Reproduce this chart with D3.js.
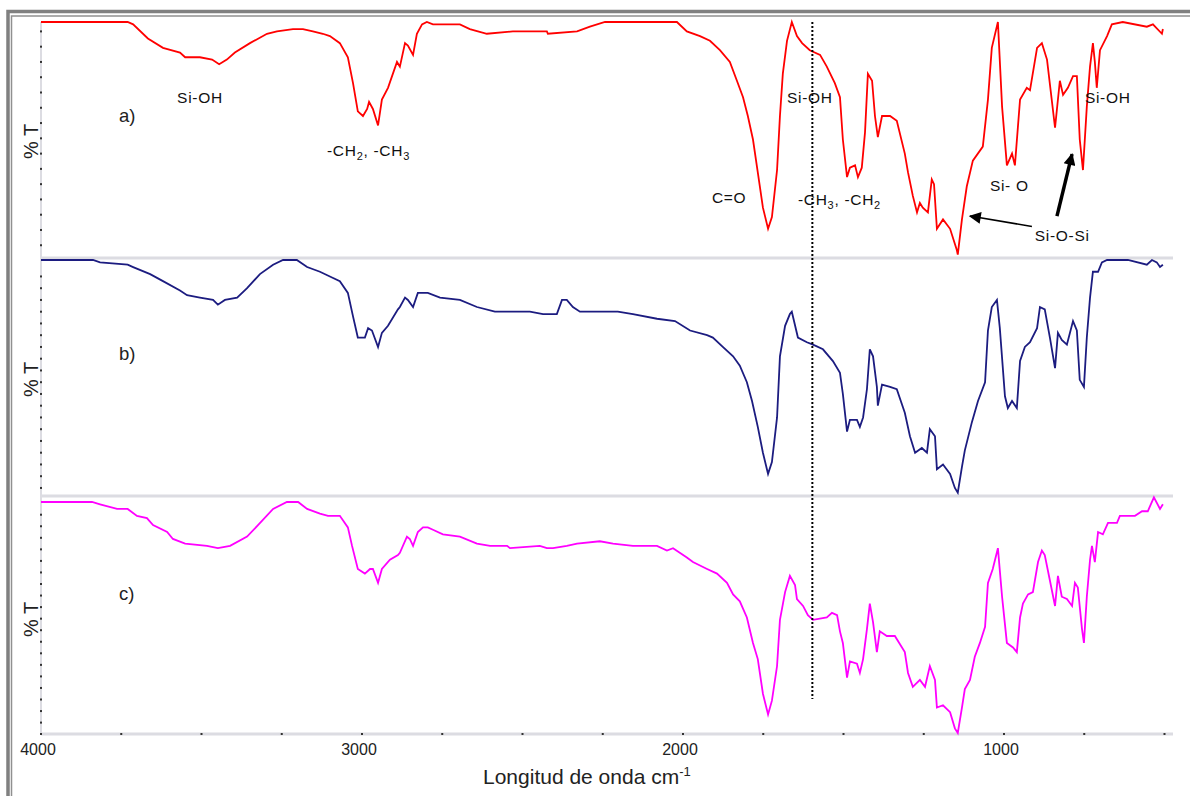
<!DOCTYPE html>
<html>
<head>
<meta charset="utf-8">
<script src="https://cdn.jsdelivr.net/npm/d3@7"></script>
<style>
  html, body { margin: 0; padding: 0; background: #fff; }
  svg { display: block; font-family: "Liberation Sans", Arial, sans-serif; }
</style>
</head>
<body>
<div id="chart"></div>
<script>
// FTIR spectra, [wavenumber cm-1, %T]
const specA = [[4000,100],[3730,100],[3713,99],[3667,93],[3620,89],[3567,87],[3551,85],[3505,85],[3467,84],[3445,82],[3421,84],[3396,87],[3349,91],[3296,95],[3265,96],[3215,97],[3184,97],[3153,96],[3122,95],[3100,94],[3069,91],[3044,85],[3028,74],[3013,62],[2997,60],[2984,63],[2978,66],[2966,63],[2950,56],[2938,67],[2919,72],[2891,83],[2882,81],[2866,91],[2857,90],[2841,86],[2829,95],[2813,99],[2798,100],[2779,99],[2726,99],[2695,99],[2664,97],[2611,95],[2530,96],[2424,96],[2421,95],[2330,96],[2290,98],[2243,100],[2019,100],[1988,96],[1947,94],[1916,92],[1885,88],[1854,83],[1832,75],[1813,68],[1798,60],[1782,50],[1767,36],[1751,21],[1735,12],[1723,17],[1707,37],[1698,60],[1689,78],[1676,92],[1661,100],[1645,94],[1629,91],[1605,88],[1573,86],[1552,81],[1527,74],[1511,68],[1502,50],[1489,34],[1480,38],[1464,39],[1455,34],[1443,38],[1433,53],[1424,78],[1411,75],[1402,60],[1393,51],[1380,60],[1355,60],[1334,58],[1309,44],[1299,36],[1284,26],[1271,19],[1262,23],[1253,21],[1237,19],[1225,33],[1218,31],[1209,12],[1190,16],[1168,12],[1147,3],[1144,1],[1131,16],[1116,30],[1097,41],[1066,47],[1050,67],[1038,89],[1019,100],[1006,64],[991,39],[975,44],[966,39],[950,67],[929,72],[919,71],[897,89],[882,91],[866,84],[841,55],[826,75],[816,69],[801,72],[785,77],[773,77],[764,50],[754,37],[742,64],[732,81],[723,91],[717,83],[711,72],[701,88],[679,94],[664,99],[630,100],[555,98],[536,99],[508,95],[505,97]];

const specB = [[4000,100],[3838,100],[3816,99],[3730,98],[3713,97],[3660,94],[3620,91],[3567,87],[3545,85],[3505,84],[3464,83],[3449,81],[3427,83],[3389,84],[3358,88],[3318,94],[3277,98],[3246,100],[3203,100],[3171,97],[3131,95],[3100,93],[3069,91],[3044,86],[3028,76],[3013,67],[2991,67],[2981,71],[2969,70],[2950,63],[2938,69],[2919,72],[2888,79],[2882,80],[2866,84],[2857,83],[2841,80],[2826,86],[2795,86],[2757,84],[2695,83],[2642,80],[2586,78],[2477,78],[2436,77],[2393,77],[2377,83],[2362,83],[2343,80],[2321,78],[2290,78],[2203,78],[2156,77],[2081,75],[2025,74],[1978,70],[1925,68],[1907,67],[1876,63],[1844,59],[1823,55],[1801,48],[1785,40],[1767,29],[1751,18],[1735,9],[1723,14],[1707,33],[1698,59],[1682,72],[1667,77],[1661,78],[1642,67],[1614,65],[1595,64],[1564,62],[1533,57],[1511,52],[1502,43],[1489,27],[1480,32],[1458,32],[1449,29],[1439,33],[1427,45],[1418,62],[1408,59],[1396,46],[1393,38],[1380,47],[1355,46],[1334,45],[1309,35],[1293,25],[1277,18],[1256,20],[1240,18],[1231,28],[1215,25],[1209,11],[1190,13],[1168,9],[1153,3],[1144,1],[1131,12],[1122,19],[1100,31],[1081,40],[1059,48],[1050,70],[1038,80],[1022,83],[1013,71],[997,42],[988,37],[975,40],[960,37],[950,57],[935,63],[919,65],[897,71],[888,80],[873,79],[857,67],[841,54],[832,69],[820,66],[804,64],[785,74],[773,70],[764,49],[751,46],[742,67],[732,84],[723,95],[707,95],[695,99],[679,100],[614,100],[555,98],[539,100],[524,99],[514,97],[505,98]];

const specC = [[4000,100],[3841,100],[3816,99],[3763,97],[3730,97],[3701,94],[3670,93],[3651,90],[3607,87],[3589,84],[3551,82],[3483,81],[3449,80],[3411,81],[3358,85],[3324,90],[3277,97],[3234,100],[3199,100],[3171,97],[3131,95],[3106,94],[3069,94],[3044,89],[3031,81],[3013,71],[2991,69],[2975,71],[2966,71],[2950,65],[2938,71],[2913,75],[2888,77],[2882,78],[2860,85],[2851,84],[2841,81],[2826,87],[2810,89],[2795,89],[2779,88],[2748,86],[2695,85],[2642,82],[2601,81],[2548,81],[2539,80],[2446,81],[2424,80],[2405,80],[2362,81],[2330,82],[2259,83],[2218,82],[2156,81],[2081,81],[2050,79],[2031,80],[1988,76],[1969,74],[1925,71],[1894,69],[1863,65],[1844,60],[1823,57],[1801,50],[1782,39],[1767,32],[1751,17],[1735,8],[1723,14],[1707,29],[1698,49],[1682,61],[1667,68],[1651,64],[1645,58],[1626,55],[1611,51],[1595,49],[1552,50],[1536,52],[1520,51],[1511,44],[1502,39],[1489,24],[1480,31],[1458,30],[1449,26],[1439,32],[1427,45],[1418,56],[1408,48],[1396,35],[1387,44],[1365,42],[1340,42],[1309,35],[1299,26],[1284,20],[1262,23],[1246,20],[1231,29],[1215,23],[1209,11],[1190,12],[1168,9],[1153,2],[1144,0],[1131,11],[1122,19],[1106,23],[1091,33],[1075,39],[1059,46],[1050,65],[1035,71],[1019,80],[1006,59],[991,39],[972,37],[960,35],[950,50],[941,56],[925,60],[910,61],[894,74],[882,79],[873,77],[857,66],[841,55],[832,68],[820,59],[804,58],[788,55],[779,65],[770,63],[757,45],[751,39],[742,59],[732,75],[726,81],[717,74],[707,87],[692,86],[676,91],[648,91],[639,94],[592,94],[570,96],[552,96],[533,102],[514,97],[505,99]];

const panelLabels = ["a)", "b)", "c)"];
const seriesColors = ["#ff0000", "#1c1c80", "#ff00ff"];
const majorTicks = [4000, 3000, 2000, 1000];
const minorTicks = d3.range(4000, 499, -250);

// peak labels for spectrum a: [text, wavenumber, %T]  ("|" toggles subscript)
const peakLabels = [
  ["Si-OH", 3576, 65.5],
  ["-CH|2|, -CH|3", 3109, 43],
  ["C=O", 1910, 23],
  ["Si-OH", 1676, 65.5],
  ["-CH|3|, -CH|2", 1642, 22],
  ["Si- O", 1044, 28],
  ["Si-O-Si", 904, 7],
  ["Si-OH", 748, 65.5]
];

const width = 1190;
const height = 796;

const svg = d3.select("#chart")
  .append("svg")
  .attr("width", width)
  .attr("height", height);

// window frame
svg.append("path")
  .attr("d", "M8,796V11.5H1190")
  .attr("fill", "none")
  .attr("stroke", "#808080")
  .attr("stroke-width", 3.5);
svg.append("path")
  .attr("d", "M11.5,796V16H1190")
  .attr("fill", "none")
  .attr("stroke", "#909090")
  .attr("stroke-width", 1.5);

const x = d3.scaleLinear().domain([4000, 500]).range([41, 1164.5]);

const panels = [
  { data: specA, top: 22, bottom: 257, tickStep: 6.5, tickStart: 5 },
  { data: specB, top: 260, bottom: 495, tickStep: 5, tickStart: 3 },
  { data: specC, top: 502, bottom: 733, tickStep: 5, tickStart: 4.5 }
];

const gridColor = "#dcdce2";

// left axis line
svg.append("line")
  .attr("x1", 41).attr("x2", 41)
  .attr("y1", 22).attr("y2", 734)
  .attr("stroke", gridColor)
  .attr("stroke-width", 2);

// panel separators and bottom axis
[257, 495, 733].forEach(yy => {
  svg.append("line")
    .attr("x1", 41).attr("x2", 1173)
    .attr("y1", yy + 1).attr("y2", yy + 1)
    .attr("stroke", gridColor)
    .attr("stroke-width", 3);
});

const defs = svg.append("defs");
defs.append("marker")
  .attr("id", "head")
  .attr("viewBox", "0 0 10 10")
  .attr("refX", 9).attr("refY", 5)
  .attr("markerWidth", 16).attr("markerHeight", 12)
  .attr("markerUnits", "userSpaceOnUse")
  .attr("orient", "auto")
  .append("path")
  .attr("d", "M0,0L10,5L0,10z")
  .attr("fill", "#000");

panels.forEach((p, i) => {
  const y = d3.scaleLinear().domain([0, 100]).range([p.bottom, p.top]);

  // dotted y ticks
  svg.append("g")
    .selectAll("rect")
    .data(d3.range(p.tickStart, 98, p.tickStep))
    .join("rect")
    .attr("x", 40)
    .attr("y", d => y(d) - 1)
    .attr("width", 2)
    .attr("height", 2)
    .attr("fill", "#333");

  const line = d3.line()
    .x(d => x(d[0]))
    .y(d => y(d[1]));

  svg.append("path")
    .datum(p.data)
    .attr("d", line)
    .attr("fill", "none")
    .attr("stroke", seriesColors[i])
    .attr("stroke-width", 1.8)
    .attr("stroke-linejoin", "miter");

  svg.append("text")
    .attr("transform", `translate(38,${(p.top + p.bottom) / 2 + 2}) rotate(-90)`)
    .attr("text-anchor", "middle")
    .attr("font-size", 20)
    .attr("fill", "#222")
    .text("% T");

  svg.append("text")
    .attr("x", 119)
    .attr("y", y(57.5))
    .attr("font-size", 18.5)
    .attr("fill", "#222")
    .text(panelLabels[i]);

  if (i === 0) {
    peakLabels.forEach(([txt, wn, t]) => {
      const parts = txt.split("|");
      const el = svg.append("text")
        .attr("x", x(wn))
        .attr("y", y(t))
        .attr("font-size", 15.5)
        .attr("letter-spacing", 0.7)
        .attr("fill", "#111");
      parts.forEach((s, k) => {
        const ts = el.append("tspan").text(s);
        if (k % 2 === 1) ts.attr("font-size", 11).attr("dy", 4);
        else if (k > 0) ts.attr("dy", -4);
      });
    });

    // arrows pointing at the Si-O-Si bands
    svg.append("line")
      .attr("x1", x(913)).attr("y1", y(13))
      .attr("x2", x(1106)).attr("y2", y(17.4))
      .attr("stroke", "#000")
      .attr("stroke-width", 1.5)
      .attr("marker-end", "url(#head)");

    svg.append("line")
      .attr("x1", x(835)).attr("y1", y(17.4))
      .attr("x2", x(788)).attr("y2", y(43.8))
      .attr("stroke", "#000")
      .attr("stroke-width", 3.5)
      .attr("marker-end", "url(#head)");
  }
});

// dotted marker line at ~1597 cm-1
svg.append("line")
  .attr("x1", x(1597)).attr("x2", x(1597))
  .attr("y1", 22).attr("y2", 699)
  .attr("stroke", "#000")
  .attr("stroke-width", 2)
  .attr("stroke-dasharray", "2,2");

// bottom axis dots and labels
svg.append("g")
  .selectAll("rect")
  .data(minorTicks)
  .join("rect")
  .attr("x", d => x(d) - 1)
  .attr("y", 733)
  .attr("width", 2)
  .attr("height", 2)
  .attr("fill", "#333");

svg.append("g")
  .selectAll("text")
  .data(majorTicks)
  .join("text")
  .attr("x", d => x(d) - 3)
  .attr("y", 755)
  .attr("text-anchor", "middle")
  .attr("font-size", 16)
  .attr("fill", "#222")
  .text(d => d);

const title = svg.append("text")
  .attr("x", 483)
  .attr("y", 784)
  .attr("font-size", 21)
  .attr("fill", "#222")
  .text("Longitud de onda cm");
title.append("tspan")
  .attr("font-size", 13)
  .attr("dy", -8)
  .text("-1");
</script>
</body>
</html>
